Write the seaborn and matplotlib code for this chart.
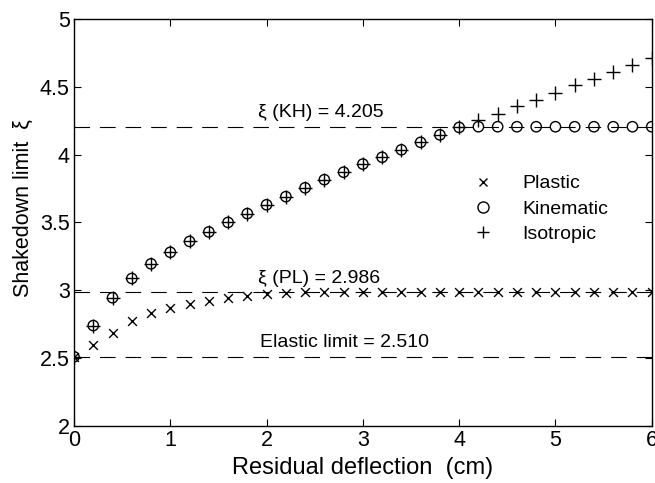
import numpy as np
import pandas as pd
import matplotlib
matplotlib.use("Agg")
import matplotlib.pyplot as plt
import seaborn as sns
from matplotlib.lines import Line2D

# datos
deflexion = [0.0, 0.2, 0.4, 0.6, 0.8, 1.0, 1.2, 1.4, 1.6, 1.8, 2.0,
             2.2, 2.4, 2.6, 2.8, 3.0, 3.2, 3.4, 3.6, 3.8, 4.0,
             4.2, 4.4, 4.6, 4.8, 5.0, 5.2, 5.4, 5.6, 5.8, 6.0]
plastic = [2.510, 2.600, 2.685, 2.770, 2.830, 2.870, 2.900, 2.920, 2.940, 2.955, 2.970,
           2.980, 2.986, 2.986, 2.986, 2.986, 2.986, 2.986, 2.986, 2.986, 2.986,
           2.986, 2.986, 2.986, 2.986, 2.986, 2.986, 2.986, 2.986, 2.986, 2.986]
kinematic = [2.510, 2.740, 2.945, 3.087, 3.195, 3.280, 3.360, 3.430, 3.500, 3.565, 3.630,
             3.690, 3.755, 3.815, 3.870, 3.930, 3.980, 4.035, 4.090, 4.145, 4.200,
             4.205, 4.205, 4.205, 4.205, 4.205, 4.205, 4.205, 4.205, 4.205, 4.205]
isotropic = [2.510, 2.740, 2.945, 3.087, 3.195, 3.280, 3.360, 3.430, 3.500, 3.565, 3.630,
             3.690, 3.755, 3.815, 3.870, 3.930, 3.980, 4.035, 4.090, 4.145, 4.200,
             4.255, 4.300, 4.355, 4.405, 4.455, 4.510, 4.560, 4.610, 4.660, 4.715]

limite_kh = 4.205
limite_pl = 2.986
limite_elastico = 2.510

df = pd.DataFrame({"x": deflexion, "plastic": plastic,
                   "kinematic": kinematic, "isotropic": isotropic})

sns.set_style("ticks")
plt.rcParams["font.family"] = ["Liberation Sans", "DejaVu Sans"]
plt.rcParams["xtick.direction"] = "in"
plt.rcParams["ytick.direction"] = "in"
plt.rcParams["text.color"] = "k"
plt.rcParams["axes.labelcolor"] = "k"
plt.rcParams["xtick.color"] = "k"
plt.rcParams["ytick.color"] = "k"
plt.rcParams["axes.edgecolor"] = "k"

fig = plt.figure(figsize=(6.55, 4.83), dpi=100)
ax = fig.add_axes([0.113, 0.118, 0.882, 0.843])

# lineas de referencia
for val in [limite_kh, limite_pl, limite_elastico]:
    ax.axhline(val, color="k", lw=0.8, ls=(0, (14, 9)), zorder=1)

sns.scatterplot(data=df, x="x", y="plastic", marker="x", color="k",
                s=40, linewidth=1.0, ax=ax, zorder=3)
sns.scatterplot(data=df, x="x", y="kinematic", marker="o", facecolor="none",
                edgecolor="k", s=55, linewidth=1.0, ax=ax, zorder=3)
sns.scatterplot(data=df, x="x", y="isotropic", marker="+", color="k",
                s=90, linewidth=1.0, ax=ax, zorder=3)

ax.text(1.91, limite_kh + 0.07, "ξ (KH) = %.3f" % limite_kh, fontsize=14)
ax.text(1.91, limite_pl + 0.07, "ξ (PL) = %.3f" % limite_pl, fontsize=14)
ax.text(1.93, limite_elastico + 0.07, "Elastic limit = %.3f" % limite_elastico, fontsize=14)

ax.set_xlim(0, 6)
ax.set_ylim(2, 5)
ax.set_xticks(range(0, 7))
ax.set_yticks(np.arange(2, 5.01, 0.5))
ax.set_yticklabels(["2", "2.5", "3", "3.5", "4", "4.5", "5"])
ax.tick_params(labelsize=15.5, top=True, right=True, length=5, width=0.8, pad=3)
for sp in ax.spines.values():
    sp.set_linewidth(1.0)

ax.set_xlabel("Residual deflection  (cm)", fontsize=17, labelpad=4)
ax.set_ylabel("Shakedown limit  ξ", fontsize=15.5)
ax.yaxis.set_label_coords(-0.07, 0.535)

handles = [
    Line2D([], [], ls="none", marker="x", color="k", markersize=6, mew=1.0),
    Line2D([], [], ls="none", marker="o", mfc="none", mec="k", markersize=8, mew=1.0),
    Line2D([], [], ls="none", marker="+", color="k", markersize=9, mew=1.0),
]
ax.legend(handles, ["Plastic", "Kinematic", "Isotropic"], frameon=False,
          fontsize=14, loc="upper left", bbox_to_anchor=(0.661, 0.636),
          handletextpad=1.0, labelspacing=0.4, borderaxespad=0)

plt.savefig("out.png", dpi=100)
